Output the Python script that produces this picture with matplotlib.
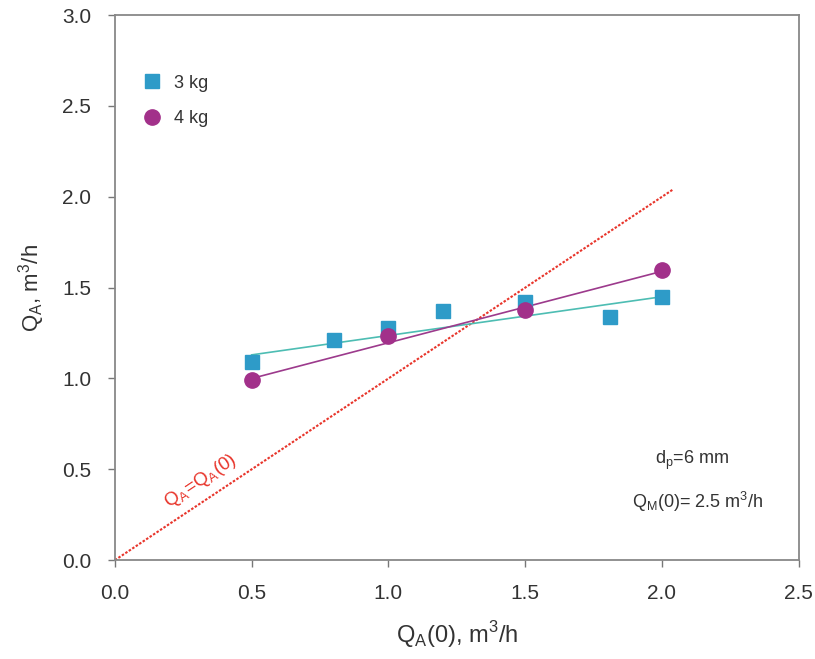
import matplotlib
matplotlib.use("Agg")
import matplotlib.pyplot as plt

plt.rcParams['font.family'] = ['Liberation Sans', 'DejaVu Sans']

# Data
x3 = [0.5, 0.8, 1.0, 1.2, 1.5, 1.81, 2.0]
y3 = [1.09, 1.21, 1.28, 1.37, 1.42, 1.34, 1.45]
x4 = [0.5, 1.0, 1.5, 2.0]
y4 = [0.99, 1.235, 1.375, 1.595]
fit3_x = [0.5, 2.0]
fit3_y = [1.13, 1.45]
fit4_x = [0.5, 2.0]
fit4_y = [1.00, 1.59]
ident_x = [0.0, 2.04]
ident_y = [0.0, 2.04]
xticks = [0.0, 0.5, 1.0, 1.5, 2.0, 2.5]
yticks = [0.0, 0.5, 1.0, 1.5, 2.0, 2.5, 3.0]

fig = plt.figure(figsize=(8.15, 6.59), dpi=100)
ax = fig.add_axes([0.141, 0.150, 0.839, 0.827])

ax.plot(ident_x, ident_y, linestyle=(0, (1.2, 0.8)), color='#E8352B', lw=1.5, zorder=2)
ax.plot(fit3_x, fit3_y, color='#4DBDB3', lw=1.2, zorder=2)
ax.plot(fit4_x, fit4_y, color='#9C3A8C', lw=1.2, zorder=2)
ax.plot(x3, y3, linestyle='none', marker='s', ms=10.3, color='#2E9BC8', label='3 kg', zorder=3)
ax.plot(x4, y4, linestyle='none', marker='o', ms=11, color='#A2308A', label='4 kg', zorder=4)

ax.set_xlim(0, 2.5)
ax.set_ylim(0, 3.0)
ax.set_xticks(xticks)
ax.set_yticks(yticks)
ax.set_xticklabels([f'{v:.1f}' for v in xticks])
ax.set_yticklabels([f'{v:.1f}' for v in yticks])
ax.tick_params(direction='out', length=5, width=1, color='#777777',
               labelsize=15, labelcolor='#333333', pad=12)
for s in ax.spines.values():
    s.set_color('#888888')
    s.set_linewidth(1.3)

ax.set_xlabel('Q$_\\mathregular{A}$(0), m$^\\mathregular{3}$/h', fontsize=17, color='#333333', labelpad=12)
ax.set_ylabel('Q$_\\mathregular{A}$, m$^\\mathregular{3}$/h', fontsize=16, color='#333333', labelpad=11)

ax.legend(loc='upper left', bbox_to_anchor=(0.0406, 0.891), frameon=False,
          fontsize=13, handletextpad=0.75, labelspacing=1.02, handlelength=1.0,
          borderaxespad=0, borderpad=0, labelcolor='#333333')

ax.text(0.312, 0.435, 'Q$_\\mathregular{A}$=Q$_\\mathregular{A}$(0)', color='#E8352B', fontsize=13.5,
        rotation=33.7, rotation_mode='anchor', ha='center', va='center')
ax.text(2.11, 0.55, 'd$_\\mathregular{p}$=6 mm', fontsize=13, ha='center', va='center', color='#333333')
ax.text(2.13, 0.32, 'Q$_\\mathregular{M}$(0)= 2.5 m$^\\mathregular{3}$/h', fontsize=13, ha='center', va='center', color='#333333')

fig.savefig('out.png', dpi=100)
